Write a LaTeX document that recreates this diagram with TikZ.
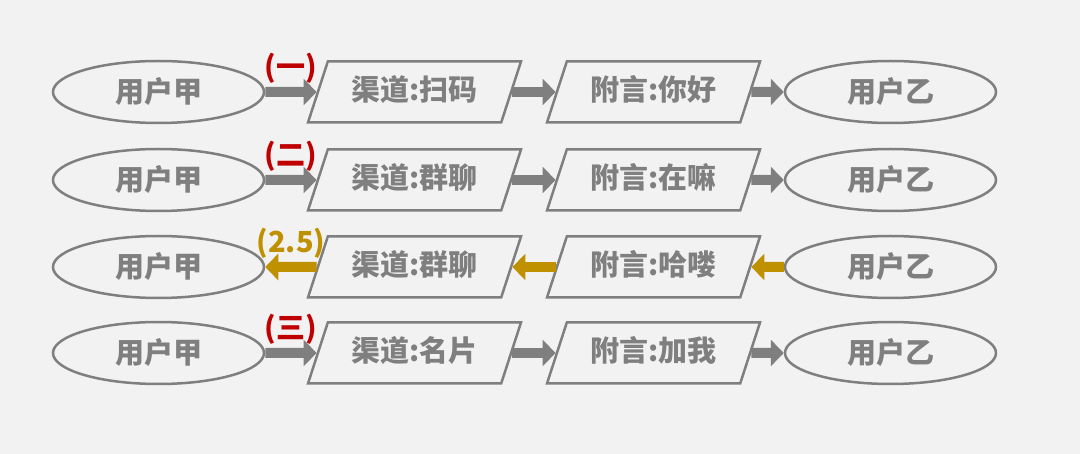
\documentclass[tikz,border=0pt]{standalone}
\usepackage{fontspec}
\newfontfamily\cjk{Noto Sans CJK SC}
\usetikzlibrary{shapes.geometric,arrows.meta}
\definecolor{bg}{HTML}{F2F2F2}
\definecolor{grayline}{HTML}{7F7F7F}
\definecolor{redlab}{HTML}{C00000}
\definecolor{goldlab}{HTML}{BF9000}

\begin{document}
\begin{tikzpicture}[x=1pt,y=-1pt,
  font=\cjk\bfseries\fontsize{29}{34}\selectfont,
  user/.style={ellipse,draw=grayline,line width=2.5pt,fill=bg,text=grayline,
    minimum width=211pt,minimum height=62pt,inner sep=0pt},
  msg/.style={trapezium,trapezium left angle=72,trapezium right angle=108,
    trapezium stretches body,draw=grayline,line width=2.5pt,fill=bg,text=grayline,
    minimum width=213pt,text height=22pt,text depth=4pt,inner xsep=0pt,inner ysep=17.5pt},
  flow/.style={line width=10pt,-{Triangle[width=26pt,length=13pt]}},
  tag/.style={midway,yshift=24pt}]
  \fill[bg] (0,0) rectangle (1080,454);
  \useasboundingbox (0,0) rectangle (1080,454);
  \foreach \r/\y/\ch/\fy in {1/92/扫码/你好,2/180/群聊/在嘛,3/267/群聊/哈喽,4/353/名片/加我}{
    \node[user] (a\r) at (158.5,\y) {用户甲};
    \node[msg] (c\r) at (414.5,\y) {渠道:\ch};
    \node[msg] (f\r) at (653.5,\y) {附言:\fy};
    \node[user] (b\r) at (890.5,\y) {用户乙};
  }
  \foreach \r/\t in {1/(一),2/(二),4/(三)}{
    \draw[flow,grayline] (a\r.east) -- (c\r.west) node[tag,text=redlab]{\t};
    \draw[flow,grayline] (c\r.east) -- (f\r.west);
    \draw[flow,grayline] (f\r.east) -- (b\r.west);
  }
  \draw[flow,goldlab] (c3.west) -- (a3.east) node[tag]{(2.5)};
  \draw[flow,goldlab] (f3.west) -- (c3.east);
  \draw[flow,goldlab] (b3.west) -- (f3.east);
\end{tikzpicture}
\end{document}
